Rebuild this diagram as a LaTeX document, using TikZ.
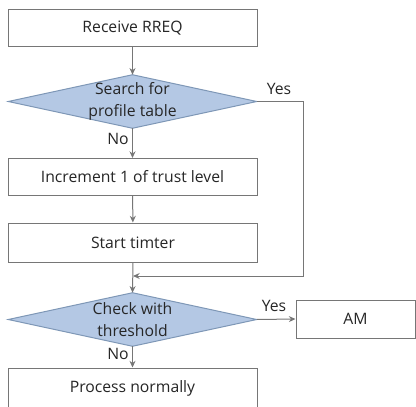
\documentclass[tikz,border=0pt]{standalone}
\usepackage{fontspec}
\setmainfont{Open Sans}
\usetikzlibrary{arrows.meta,backgrounds}
\definecolor{linegray}{HTML}{767676}
\definecolor{txtgray}{HTML}{262626}
\definecolor{dfill}{HTML}{B4C8E4}
\definecolor{dborder}{HTML}{7E97B6}
\begin{document}
\begin{tikzpicture}[x=0.75pt,y=-0.75pt,
  font=\fontsize{11.8pt}{16.5pt}\selectfont,
  stepbox/.style={draw=linegray,line width=0.75pt,fill=white,text=txtgray,
    minimum width=186.75pt,minimum height=27.75pt,inner sep=0pt},
  decbox/.style={rectangle,text=txtgray,
    minimum width=186pt,minimum height=39.75pt,inner sep=0pt,align=center},
  decshape/.style={draw=dborder,line width=0.75pt,fill=dfill},
  lbl/.style={text=txtgray,inner sep=0pt},
  conn/.style={draw=linegray,line width=0.75pt,-{Stealth[length=5pt,width=4.5pt]}}]
\useasboundingbox (0,0) rectangle (416,406);
\clip (0,0) rectangle (416,406);
\node[stepbox] (recv) at (132.5,28.5) {Receive RREQ};
\node[decbox] (d1) at (132.5,101.5) {Search for\\profile table};
\node[stepbox] (inc) at (132.5,177) {Increment 1 of trust level};
\node[stepbox,minimum height=29.25pt] (start) at (133,242.5) {Start timter};
\node[decbox] (d2) at (132.5,319.5) {Check with\\threshold};
\node[stepbox,minimum width=89.25pt,minimum height=28.5pt] (am) at (355.5,319) {AM};
\node[stepbox,minimum height=30pt] (proc) at (132.5,388) {Process normally};
\begin{scope}[on background layer]
\draw[decshape] (d1.north) -- (d1.east) -- (d1.south) -- (d1.west) -- cycle;
\draw[decshape] (d2.north) -- (d2.east) -- (d2.south) -- (d2.west) -- cycle;
\end{scope}
\coordinate (c1) at (303,101.5);
\coordinate (c2) at (303,276);
\coordinate (m) at (133,276);
\node[lbl] (y1) at (279,89) {Yes};
\node[lbl] (n1) at (118,139) {No};
\node[lbl] (y2) at (274,306) {Yes};
\node[lbl] (n2) at (118,354) {No};
\draw[conn] (recv) -- (d1);
\draw[conn] (d1) -- (inc);
\draw[conn] (inc) -- (start);
\draw[conn] (start.south) -- (d2.north);
\draw[conn] (d1.east) -- (c1) -- (c2) -- (m);
\draw[conn] (d2.east) -- (am.west);
\draw[conn] (d2.south) -- (proc.north);
\end{tikzpicture}
\end{document}
